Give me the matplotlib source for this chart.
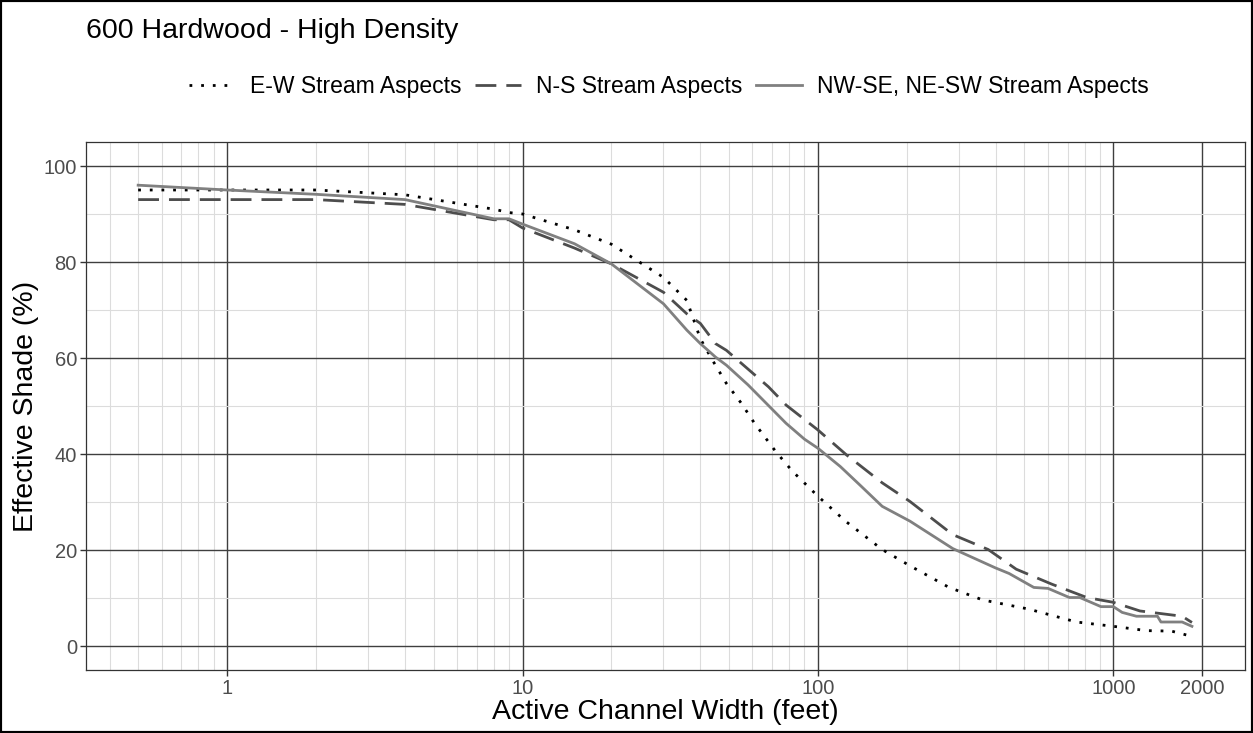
import matplotlib
matplotlib.use("Agg")
import matplotlib.pyplot as plt
from matplotlib.patches import Rectangle
from matplotlib.ticker import FixedLocator, LogLocator, NullFormatter

plt.rcParams['font.family'] = ['Liberation Sans', 'DejaVu Sans']

# E-W stream aspects (dotted)
ew_width = [0.5, 1, 2, 4, 8, 9, 10, 15, 20, 30, 36, 40, 44, 49, 55, 61, 72, 82,
            100, 124, 165, 205, 278, 361, 516, 750, 1000, 1296, 1574, 1845]
ew_shade = [95, 95, 95, 94, 91, 90.3, 90, 86.7, 83.7, 76.8, 72, 64, 59.5, 54.7, 50.6, 46.4, 40.5, 36.4,
            31.2, 26, 20.1, 16.7, 12.2, 9.6, 7.7, 5, 4.1, 3.2, 3.1, 2]

# N-S stream aspects (dashed)
ns_width = [0.5, 1, 2, 4, 8, 9, 10, 15, 20, 30, 36, 40, 45, 49, 68, 78, 100, 125,
            165, 205, 286, 377, 469, 618, 813, 1000, 1230, 1709, 1845]
ns_shade = [93, 93, 93, 92, 88.8, 88.8, 87.1, 82.9, 79.6, 73.7, 69.2, 67.2, 63, 61.6, 54, 50.2, 45, 39.8,
            34, 30.1, 23.2, 20.1, 16, 12.9, 10.1, 9.1, 7.3, 6.2, 4.9]

# NW-SE, NE-SW stream aspects (solid)
nw_width = [0.5, 1, 2, 4, 8, 9, 10, 15, 20, 30, 36, 40, 45, 49, 58, 78, 90, 100,
            119, 140, 165, 205, 286, 398, 444, 538, 601, 710, 770, 908, 1000, 1071,
            1197, 1410, 1449, 1709, 1845]
nw_shade = [96, 95, 94.1, 93, 89, 89, 87.9, 83.8, 79.6, 71.3, 65.8, 63, 60.2, 58.5, 54.4, 46.4, 43.1, 41.2,
            37.4, 33.3, 29.1, 26, 20.3, 16.3, 15.1, 12.2, 12, 10.1, 10.1, 8.2, 8.2, 7,
            6.2, 6.2, 5, 5, 4.1]

x_ticks = [1, 10, 100, 1000, 2000]
y_ticks = [0, 20, 40, 60, 80, 100]

W, H = 1253, 733
fig = plt.figure(figsize=(W / 100, H / 100), dpi=100)
ax = fig.add_axes([86 / W, 1 - 670 / H, (1245 - 86) / W, (670 - 142) / H])

ax.plot(ew_width, ew_shade, color='black', lw=2, linestyle=(0, (1, 3.2)),
        label='E-W Stream Aspects')
ax.plot(ns_width, ns_shade, color='#4d4d4d', lw=2, linestyle=(0, (7.5, 3.6)),
        label='N-S Stream Aspects')
ax.plot(nw_width, nw_shade, color='#808080', lw=2, label='NW-SE, NE-SW Stream Aspects')

ax.set_xscale('log')
ax.set_xlim(0.333, 2790)
ax.set_ylim(-5, 105)

ax.xaxis.set_major_locator(FixedLocator(x_ticks))
ax.set_xticklabels([str(t) for t in x_ticks])
ax.xaxis.set_minor_locator(LogLocator(base=10, subs=range(2, 10), numticks=20))
ax.xaxis.set_minor_formatter(NullFormatter())
ax.set_yticks(y_ticks)
ax.set_yticks([10, 30, 50, 70, 90], minor=True)

ax.grid(which='major', color='#3f3f3f', lw=1.0)
ax.grid(which='minor', color='#dcdcdc', lw=0.8)
ax.set_axisbelow(True)
ax.tick_params(which='major', length=4.5, width=1, color='#333333', pad=2,
               labelsize=14.5, labelcolor='#4d4d4d')
ax.tick_params(which='minor', length=0)
for s in ax.spines.values():
    s.set_color('#333333')
    s.set_linewidth(0.9)

ax.set_xlabel('Active Channel Width (feet)', fontsize=20.5, labelpad=1)
ax.set_ylabel('Effective Shade (%)', fontsize=20.5, labelpad=3)

fig.text(86 / W, 1 - 31 / H, '600 Hardwood - High Density', fontsize=20.5,
         ha='left', va='center')

fig.legend(loc='center', bbox_to_anchor=(669 / W, 1 - 87 / H), ncol=3,
           frameon=False, fontsize=16.5, handlelength=2.0, columnspacing=0.6,
           handletextpad=0.65)

fig.add_artist(Rectangle((0, 0), 1, 1, transform=fig.transFigure, fill=False,
                         edgecolor='black', lw=3))

fig.savefig('out.png', dpi=100)
